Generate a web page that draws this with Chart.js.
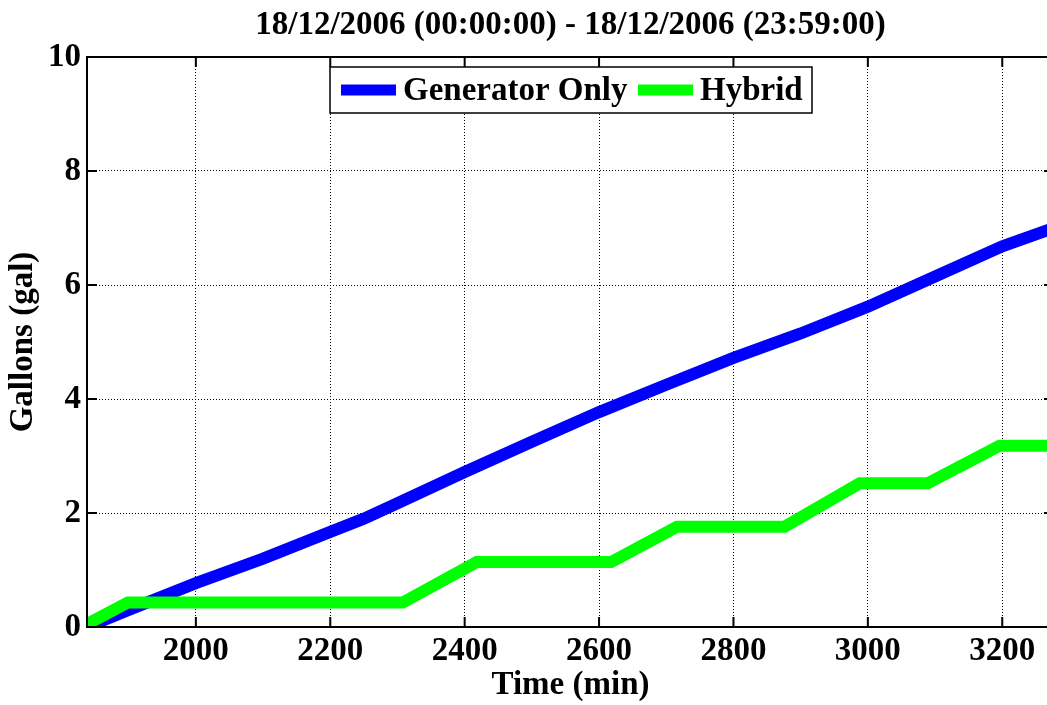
<!DOCTYPE html>
<html>
<head>
<meta charset="utf-8">
<title>Fuel use</title>
<script src="https://cdn.jsdelivr.net/npm/chart.js@4"></script>
<style>
  html, body { margin: 0; padding: 0; overflow: hidden; background: #fff; }
  canvas { display: block; }
</style>
</head>
<body>
<canvas id="fuelChart" width="1060" height="705"></canvas>
<script>
const titleText = "18/12/2006 (00:00:00) - 18/12/2006 (23:59:00)";
const xLabel = "Time (min)";
const yLabel = "Gallons (gal)";

const genTime = [1838, 1900, 2000, 2100, 2200, 2250, 2300, 2400, 2500, 2600, 2700, 2800, 2900, 3000, 3100, 3200, 3277];
const genGallons = [0, 0.3, 0.77, 1.2, 1.67, 1.9, 2.17, 2.72, 3.25, 3.77, 4.25, 4.72, 5.15, 5.62, 6.15, 6.68, 7.0];

const hybTime = [1838, 1899, 2308, 2418, 2618, 2716, 2876, 2988, 3089, 3196, 3277];
const hybGallons = [0.05, 0.43, 0.43, 1.14, 1.14, 1.76, 1.76, 2.52, 2.52, 3.18, 3.18];

const xTicks = [2000, 2200, 2400, 2600, 2800, 3000, 3200];
const yTicks = [0, 2, 4, 6, 8, 10];
const xMin = 1838;
const xMax = 3277;

const FONT = "'Liberation Serif', 'Times New Roman', serif";

const toPoints = (xs, ys) => xs.map((x, i) => ({ x: x, y: ys[i] }));

// title, outer box, inward tick marks and the framed legend
const frame = {
  id: "frame",
  afterDraw(chart) {
    const { ctx, chartArea: a, scales } = chart;
    ctx.save();

    ctx.fillStyle = "#000";
    ctx.font = "bold 33px " + FONT;
    ctx.textAlign = "center";
    ctx.textBaseline = "middle";
    ctx.fillText(titleText, (a.left + a.right) / 2, 25);

    ctx.strokeStyle = "#000";
    ctx.lineWidth = 2;
    ctx.strokeRect(a.left, a.top, a.right - a.left, a.bottom - a.top);

    ctx.beginPath();
    scales.x.ticks.forEach((t) => {
      const px = scales.x.getPixelForValue(t.value);
      ctx.moveTo(px, a.bottom);
      ctx.lineTo(px, a.bottom - 10);
      ctx.moveTo(px, a.top);
      ctx.lineTo(px, a.top + 10);
    });
    scales.y.ticks.forEach((t) => {
      const py = scales.y.getPixelForValue(t.value);
      ctx.moveTo(a.left, py);
      ctx.lineTo(a.left + 10, py);
      ctx.moveTo(a.right, py);
      ctx.lineTo(a.right - 10, py);
    });
    ctx.stroke();

    // legend
    const box = { x: 330, y: 67, w: 482, h: 46 };
    ctx.fillStyle = "#fff";
    ctx.fillRect(box.x, box.y, box.w, box.h);
    ctx.lineWidth = 1.5;
    ctx.strokeStyle = "#000";
    ctx.strokeRect(box.x, box.y, box.w, box.h);

    const cy = box.y + box.h / 2;
    const entries = [
      { ds: chart.data.datasets[0], x: 341 },
      { ds: chart.data.datasets[1], x: 638 },
    ];
    ctx.textAlign = "left";
    ctx.font = "bold 33px " + FONT;
    entries.forEach((e) => {
      ctx.strokeStyle = e.ds.borderColor;
      ctx.lineWidth = 11;
      ctx.beginPath();
      ctx.moveTo(e.x, cy);
      ctx.lineTo(e.x + 55, cy);
      ctx.stroke();
      ctx.fillStyle = "#000";
      ctx.fillText(e.ds.label, e.x + 62, cy + 1);
    });

    ctx.restore();
  },
};

const tickFont = { family: FONT, size: 33, weight: "bold" };

const ctx = document.getElementById("fuelChart").getContext("2d");
const fuelChart = new Chart(ctx, {
  type: "line",
  data: {
    datasets: [
      {
        label: "Generator Only",
        data: toPoints(genTime, genGallons),
        borderColor: "#0000ff",
        borderWidth: 12,
        pointRadius: 0,
        tension: 0,
        fill: false,
        clip: 0,
        order: 1,
        borderCapStyle: "butt",
        borderJoinStyle: "miter",
      },
      {
        label: "Hybrid",
        data: toPoints(hybTime, hybGallons),
        borderColor: "#00ff00",
        borderWidth: 12,
        pointRadius: 0,
        tension: 0,
        fill: false,
        clip: 0,
        order: 0,
        borderCapStyle: "butt",
        borderJoinStyle: "miter",
      },
    ],
  },
  options: {
    responsive: false,
    animation: false,
    layout: { padding: { top: 57, left: 0, right: 6, bottom: 0 } },
    scales: {
      x: {
        type: "linear",
        min: xMin,
        max: xMax,
        afterBuildTicks(scale) {
          scale.ticks = xTicks.map((v) => ({ value: v }));
        },
        afterFit(scale) {
          scale.height = 78;
          scale.paddingLeft = 0;
          scale.paddingRight = 0;
        },
        ticks: {
          padding: 5,
          color: "#000",
          font: tickFont,
          maxRotation: 0,
          autoSkip: false,
          callback: (v) => String(v),
        },
        grid: { color: "#000", lineWidth: 1, drawTicks: false },
        border: { display: false, dash: [1, 2] },
        title: {
          display: true,
          text: xLabel,
          color: "#000",
          font: tickFont,
          padding: { top: 0, bottom: 0 },
        },
      },
      y: {
        min: 0,
        max: 10,
        afterBuildTicks(scale) {
          scale.ticks = yTicks.map((v) => ({ value: v }));
        },
        afterFit(scale) {
          scale.width = 87;
        },
        ticks: {
          padding: 6,
          color: "#000",
          font: tickFont,
          callback: (v) => String(v),
        },
        grid: { color: "#000", lineWidth: 1, drawTicks: false },
        border: { display: false, dash: [1, 2] },
        title: {
          display: true,
          text: yLabel,
          color: "#000",
          font: tickFont,
          padding: { top: 4, bottom: 0 },
        },
      },
    },
    plugins: {
      legend: { display: false },
      title: { display: false },
      tooltip: { enabled: false },
    },
  },
  plugins: [frame],
});
</script>
</body>
</html>
